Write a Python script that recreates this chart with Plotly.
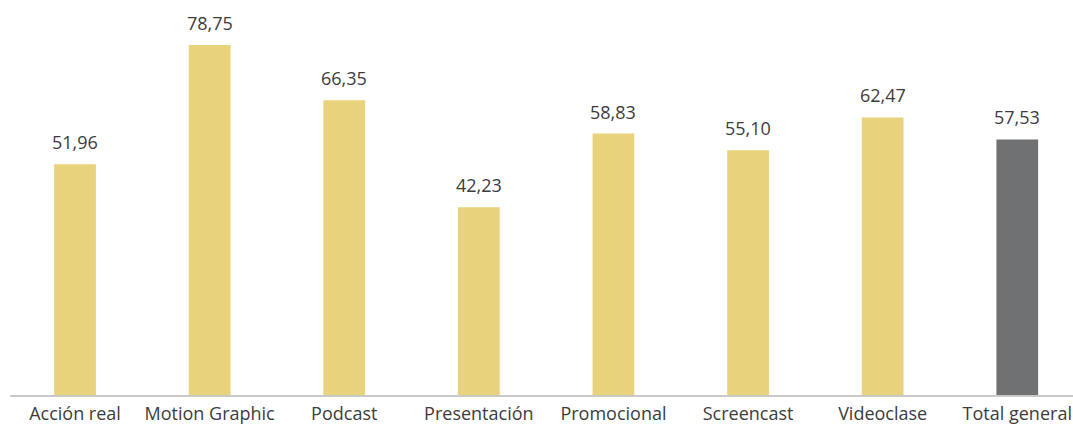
import plotly.graph_objects as go

categories = ["Acción real", "Motion Graphic", "Podcast", "Presentación",
              "Promocional", "Screencast", "Videoclase", "Total general"]
values = [51.96, 78.75, 66.35, 42.23, 58.83, 55.10, 62.47, 57.53]

YELLOW = "#E9D27C"
GREY = "#6F7173"
TEXT = "#3C3C3C"
FONT = "Open Sans, sans-serif"
colors = [GREY if c == "Total general" else YELLOW for c in categories]

fig = go.Figure()
fig.add_trace(go.Bar(
    x=categories,
    y=values,
    marker=dict(color=colors, line=dict(width=0)),
    width=0.31,
    hoverinfo="skip",
))

for c, v in zip(categories, values):
    fig.add_annotation(
        x=c, y=v, text=f"{v:.2f}".replace(".", ","),
        showarrow=False, yanchor="bottom", yshift=8,
        font=dict(family=FONT, size=18, color=TEXT),
    )

fig.update_layout(
    width=1073, height=430,
    margin=dict(l=10, r=0, t=0, b=35),
    paper_bgcolor="white", plot_bgcolor="white",
    showlegend=False,
    xaxis=dict(
        type="category",
        range=[-0.483, 7.414],
        showgrid=False,
        showline=True, linecolor="#C9C9C9", linewidth=1.5,
        ticks="",
        ticklabelstandoff=2,
        tickfont=dict(family=FONT, size=18, color=TEXT),
    ),
    yaxis=dict(
        range=[0, 88.9],
        visible=False,
        showgrid=False,
        zeroline=False,
    ),
)

fig.write_html("out.html")
